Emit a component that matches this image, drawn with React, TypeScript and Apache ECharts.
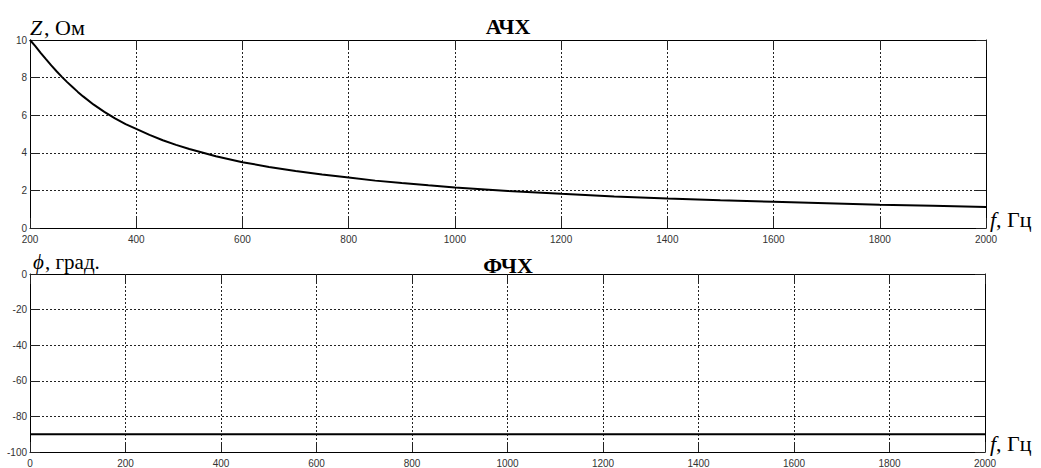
import React, { useEffect, useRef } from "react";
import * as echarts from "echarts";

// Frequency response of the impedance: frequency (Hz) and magnitude (Ohm)
const ampFreq = [200, 210, 220, 230, 240, 250, 260, 270, 280, 290, 300, 320, 340, 360, 380, 400, 425, 450, 475, 500, 550, 600, 650, 700, 750, 800, 850, 900, 950, 1000, 1100, 1200, 1300, 1400, 1500, 1600, 1700, 1800, 1900, 2000];
const ampZ = [10, 9.67, 9.32, 8.98, 8.65, 8.34, 8.04, 7.76, 7.5, 7.24, 7.0, 6.56, 6.18, 5.83, 5.53, 5.27, 4.95, 4.67, 4.42, 4.2, 3.82, 3.5, 3.25, 3.03, 2.84, 2.68, 2.52, 2.39, 2.27, 2.16, 1.97, 1.82, 1.68, 1.57, 1.47, 1.39, 1.31, 1.24, 1.18, 1.12];

// Phase response: frequency (Hz) and phase (degrees)
const phaseFreq = [0, 500, 1000, 1500, 2000];
const phaseDeg = [-90, -90, -90, -90, -90];

const ampTicks = { xMin: 200, xMax: 2000, xStep: 200, yMin: 0, yMax: 10, yStep: 2 };
const phaseTicks = { xMin: 0, xMax: 2000, xStep: 200, yMin: -100, yMax: 0, yStep: 20 };

const labelFont = {
  fontFamily: "Liberation Sans",
  fontSize: 10,
  color: "#333",
  formatter: (v: number) => String(v),
};
const serif = "Liberation Serif";

function xAxes(gridIndex: number, t: typeof ampTicks) {
  const base = {
    type: "value" as const,
    gridIndex,
    min: t.xMin,
    max: t.xMax,
    interval: t.xStep,
    axisLine: { show: true, onZero: false, lineStyle: { color: "#000", width: 1 } },
    axisTick: { show: true, inside: true, length: 10, lineStyle: { color: "#222" } },
  };
  return [
    {
      ...base,
      position: "bottom",
      axisLabel: { ...labelFont, margin: 6 },
      splitLine: { show: true, lineStyle: { color: "#222", type: [2, 2], width: 1 } },
    },
    {
      ...base,
      position: "top",
      axisLabel: { show: false },
      splitLine: { show: false },
    },
  ];
}

function yAxes(gridIndex: number, t: typeof ampTicks) {
  const base = {
    type: "value" as const,
    gridIndex,
    min: t.yMin,
    max: t.yMax,
    interval: t.yStep,
    axisLine: { show: true, onZero: false, lineStyle: { color: "#000", width: 1 } },
    axisTick: { show: true, inside: true, length: 10, lineStyle: { color: "#222" } },
  };
  return [
    {
      ...base,
      position: "left",
      axisLabel: { ...labelFont, margin: 3 },
      splitLine: { show: true, lineStyle: { color: "#222", type: [2, 2], width: 1 } },
    },
    {
      ...base,
      position: "right",
      axisLabel: { show: false },
      splitLine: { show: false },
    },
  ];
}

// Axis caption: italic symbol followed by upright units
function caption(x: number, y: number, symbol: string, rest: string, size: number, gap: number) {
  return {
    type: "group",
    x,
    y,
    children: [
      {
        type: "text",
        x: 0,
        y: 0,
        style: {
          text: symbol,
          fontFamily: serif,
          fontStyle: "italic",
          fontSize: size,
          fill: "#000",
          align: "left",
          verticalAlign: "middle",
        },
      },
      {
        type: "text",
        x: gap,
        y: 0,
        style: {
          text: rest,
          fontFamily: serif,
          fontSize: size,
          fill: "#000",
          align: "left",
          verticalAlign: "middle",
        },
      },
    ],
  };
}

function title(x: number, y: number, text: string) {
  return {
    type: "text",
    x,
    y,
    style: {
      text,
      align: "center",
      verticalAlign: "middle",
      fontFamily: serif,
      fontWeight: "bold",
      fontSize: 22,
      fill: "#000",
    },
  };
}

export default function App() {
  const ref = useRef<HTMLDivElement>(null);

  useEffect(() => {
    if (!ref.current) return;
    const chart = echarts.init(ref.current, null, { renderer: "svg" });
    chart.setOption({
      animation: false,
      backgroundColor: "#fff",
      grid: [
        { left: 30, right: 55, top: 40, height: 188 },
        { left: 30, right: 56, top: 274, height: 180 },
      ],
      xAxis: [...xAxes(0, ampTicks), ...xAxes(1, phaseTicks)],
      yAxis: [...yAxes(0, ampTicks), ...yAxes(1, phaseTicks)],
      series: [
        {
          type: "line",
          xAxisIndex: 0,
          yAxisIndex: 0,
          data: ampFreq.map((f, i) => [f, ampZ[i]]),
          showSymbol: false,
          lineStyle: { color: "#000", width: 2 },
        },
        {
          type: "line",
          xAxisIndex: 2,
          yAxisIndex: 2,
          data: phaseFreq.map((f, i) => [f, phaseDeg[i]]),
          showSymbol: false,
          lineStyle: { color: "#000", width: 2 },
        },
      ],
      graphic: [
        title(508, 26, "АЧХ"),
        title(508, 265, "ФЧХ"),
        caption(30, 27, "Z", ", Ом", 22, 14),
        caption(990, 219, "f", ", Гц", 22, 6),
        caption(33, 262, "ϕ", ", град.", 21, 12),
        caption(990, 443, "f", ", Гц", 22, 6),
      ],
    });
    return () => chart.dispose();
  }, []);

  return (
    <div
      ref={ref}
      style={{ position: "fixed", left: 0, top: 0, width: 1041, height: 468, background: "#fff" }}
    />
  );
}
